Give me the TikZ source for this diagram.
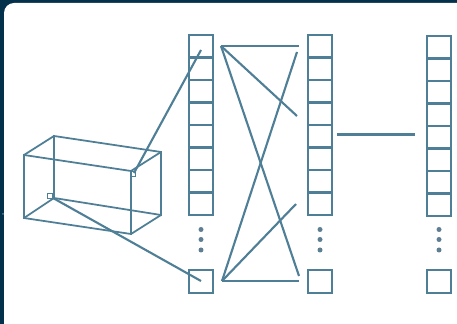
\documentclass[tikz,border=0pt]{standalone}
\usepackage{xcolor}
\usepackage{tikz}

\definecolor{navy}{HTML}{03304B}
\definecolor{steel}{HTML}{4F7F96}
\definecolor{dotgrey}{HTML}{5E7F93}

\begin{document}
\begin{tikzpicture}[
    x=0.02cm,
    y=-0.02cm,
    cell/.style={draw=steel,line width=1.3pt,rectangle,minimum width=0.48cm,minimum height=0.45cm,inner sep=0pt,outer sep=0pt},
    lastcell/.style={cell,minimum height=0.47cm},
    dotmark/.style={circle,fill=dotgrey,minimum size=0.1cm,inner sep=0pt},
    link/.style={draw=steel,line width=1.2pt},
    wire/.style={draw=steel,line width=1.0pt},
    corner/.style={draw=steel,line width=0.8pt,minimum size=0.1cm,inner sep=0pt}
  ]
    \clip (0,0) rectangle (457,324);
    \fill[navy] (0,0) rectangle (457,324);
    \fill[white,rounded corners=0.2cm] (4,3) rectangle (480,345);
    \node[circle,fill=dotgrey,minimum size=0.04cm,inner sep=0pt] (speck) at (3,214) {};

    % stacks
    \foreach \col/\xc/\yo in {a/201/35,b/320/35,c/439/36} {
      \foreach \i in {1,...,8}
        \node[cell] (\col\i) at (\xc,{\yo+22.5*(\i-0.5)}) {};
      \node[lastcell] (\col last) at (\xc,281.5) {};
      \node[dotmark] (\col dota) at (\xc,229.5) {};
      \node[dotmark] (\col dotb) at (\xc,239.5) {};
      \node[dotmark] (\col dotc) at (\xc,250) {};
    }

    % box
    \coordinate (btl) at (54,136);
    \coordinate (btr) at (161,152);
    \coordinate (bbl) at (54,198);
    \coordinate (bbr) at (161,215);
    \coordinate (ftl) at (24,155);
    \coordinate (ftr) at (131,171);
    \coordinate (fbl) at (24,218);
    \coordinate (fbr) at (131,234);
    \draw[wire] (ftl) -- (ftr) -- (fbr) -- (fbl) -- cycle;
    \draw[wire] (btl) -- (btr) -- (bbr) -- (bbl) -- cycle;
    \draw[wire] (ftl) -- (btl);
    \draw[wire] (ftr) -- (btr);
    \draw[wire] (fbl) -- (bbl);
    \draw[wire] (fbr) -- (bbr);
    \node[corner] (mark1) at (133,174) {};
    \node[corner] (mark2) at (50,196) {};

    % free ends
    \coordinate (in1) at (201,50);
    \coordinate (in2) at (201,281);
    \coordinate (boxa) at (134,173);
    \coordinate (boxb) at (53,198);
    \coordinate (ua) at (221,46);
    \coordinate (ub) at (222,281);
    \coordinate (va) at (299,46);
    \coordinate (vb) at (297,116);
    \coordinate (vc) at (299,276);
    \coordinate (vd) at (297,52);
    \coordinate (ve) at (296,204);
    \coordinate (vf) at (299,281);
    \coordinate (wa) at (337,134.5);
    \coordinate (wb) at (415,134.5);

    \draw[link] (boxa) -- (in1);
    \draw[link] (boxb) -- (in2);
    \draw[link] (ua) -- (va);
    \draw[link] (ua) -- (vb);
    \draw[link] (ua) -- (vc);
    \draw[link] (ub) -- (vd);
    \draw[link] (ub) -- (ve);
    \draw[link] (ub) -- (vf);
    \draw[link] (wa) -- (wb);
  \end{tikzpicture}
\end{document}
